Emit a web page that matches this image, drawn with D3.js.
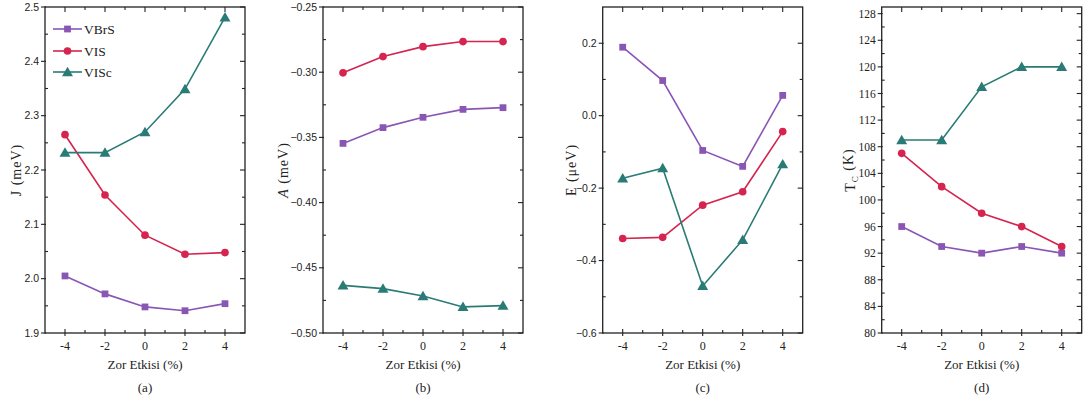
<!DOCTYPE html>
<html>
<head>
<meta charset="utf-8">
<script src="https://cdn.jsdelivr.net/npm/d3@7/dist/d3.min.js"></script>
<style>
  html, body { margin: 0; padding: 0; background: #fff; }
  svg { display: block; }
  .serif { font-family: "Liberation Serif", "DejaVu Serif", serif; }
  .sans { font-family: "Liberation Sans", Arial, sans-serif; }
</style>
</head>
<body>
<svg id="chart" width="1083" height="401"></svg>
<script>
// Strain values shared by all four panels
const strain = [-4, -2, 0, 2, 4];
const seriesNames = ["VBrS", "VIS", "VISc"];

// (a) exchange coupling J (meV)
const jVBrS = [2.005, 1.972, 1.948, 1.941, 1.954];
const jVIS  = [2.265, 2.154, 2.080, 2.045, 2.048];
const jVISc = [2.232, 2.232, 2.270, 2.349, 2.481];

// (b) anisotropy A (meV)
const aVBrS = [-0.3546, -0.3425, -0.3346, -0.3285, -0.3272];
const aVIS  = [-0.3005, -0.2880, -0.2804, -0.2765, -0.2765];
const aVISc = [-0.4635, -0.4660, -0.4716, -0.4800, -0.4790];

// (c) E (µeV)
const eVBrS = [0.189, 0.097, -0.096, -0.140, 0.056];
const eVIS  = [-0.339, -0.336, -0.247, -0.210, -0.044];
const eVISc = [-0.173, -0.145, -0.470, -0.343, -0.134];

// (d) Curie temperature Tc (K)
const tVBrS = [96, 93, 92, 93, 92];
const tVIS  = [107, 102, 98, 96, 93];
const tVISc = [109, 109, 117, 120, 120];

const xTicks = [-4, -2, 0, 2, 4];
const xMinorTicks = [-3, -1, 1, 3];
const panelLetters = ["(a)", "(b)", "(c)", "(d)"];
const xTitle = "Zor Etkisi (%)";

const colors = { VBrS: "#8a56b4", VIS: "#d4244f", VISc: "#2a7b75" };
const shapes = { VBrS: d3.symbolSquare, VIS: d3.symbolCircle, VISc: d3.symbolTriangle };
const sizes  = { VBrS: 46, VIS: 46, VISc: 52 };

const panels = [
  { left: 45,    domain: [1.9, 2.5],  major: d3.range(1.9, 2.5001, 0.1),  minor: d3.range(1.95, 2.5, 0.1),
    fmt: d3.format(".1f"), sansTicks: true, titleX: 16,  series: [jVBrS, jVIS, jVISc], legend: true },
  { left: 323,   domain: [-0.5, -0.25], major: d3.range(-0.5, -0.2499, 0.05), minor: d3.range(-0.475, -0.25, 0.05),
    fmt: d3.format(".2f"), sansTicks: true, titleX: 283, series: [aVBrS, aVIS, aVISc] },
  { left: 602.7, domain: [-0.6, 0.3], major: d3.range(-0.6, 0.2001, 0.2),  minor: d3.range(-0.5, 0.31, 0.2),
    fmt: d3.format(".1f"), sansTicks: true, titleX: 571, series: [eVBrS, eVIS, eVISc] },
  { left: 881.7, domain: [80, 129],   major: d3.range(80, 128.001, 4),     minor: d3.range(82, 129, 4),
    fmt: d3.format("d"), sansTicks: false, titleX: 850, series: [tVBrS, tVIS, tVISc] }
];

const svg = d3.select("#chart");
const plotTop = 7, plotBottom = 333, plotWidth = 200;
const axisColor = "#222";

panels.forEach((p, i) => {
  const g = svg.append("g");
  const x = d3.scaleLinear().domain([-5, 5]).range([p.left, p.left + plotWidth]);
  const y = d3.scaleLinear().domain(p.domain).range([plotBottom, plotTop]);

  // frame
  g.append("rect")
    .attr("x", p.left).attr("y", plotTop).attr("width", plotWidth).attr("height", plotBottom - plotTop)
    .attr("fill", "none").attr("stroke", axisColor).attr("stroke-width", 1.3);

  const tick = (x1, y1, x2, y2) => g.append("line")
    .attr("x1", x1).attr("y1", y1).attr("x2", x2).attr("y2", y2)
    .attr("stroke", axisColor).attr("stroke-width", 1.1);

  // x ticks: bottom (crossing) and top (inward)
  xTicks.forEach(v => {
    tick(x(v), plotBottom - 4, x(v), plotBottom + 3);
    tick(x(v), plotTop, x(v), plotTop + 5);
  });
  xMinorTicks.forEach(v => {
    tick(x(v), plotBottom, x(v), plotBottom - 3);
    tick(x(v), plotTop, x(v), plotTop + 3);
  });

  // y ticks: left (outward) and right (inward)
  p.major.forEach(v => {
    tick(p.left - 4, y(v), p.left + 1, y(v));
    tick(p.left + plotWidth, y(v), p.left + plotWidth - 5, y(v));
  });
  p.minor.forEach(v => {
    if (v > p.domain[0] && v < p.domain[1]) {
      tick(p.left, y(v), p.left + 3, y(v));
      tick(p.left + plotWidth, y(v), p.left + plotWidth - 3, y(v));
    }
  });

  // tick labels
  g.selectAll(".xl").data(xTicks).enter().append("text")
    .attr("class", "serif")
    .attr("x", d => x(d)).attr("y", 350)
    .attr("text-anchor", "middle")
    .attr("font-size", 12).attr("fill", "#222")
    .text(d => d);

  g.selectAll(".yl").data(p.major).enter().append("text")
    .attr("class", p.sansTicks ? "sans" : "serif")
    .attr("x", p.left - 6).attr("y", d => y(d))
    .attr("dy", "0.35em")
    .attr("text-anchor", "end")
    .attr("font-size", p.sansTicks ? 10.5 : 11.5)
    .attr("fill", "#222")
    .text(d => p.fmt(d));

  // axis titles
  g.append("text")
    .attr("class", "serif")
    .attr("x", p.left + plotWidth / 2).attr("y", 369)
    .attr("text-anchor", "middle")
    .attr("font-size", 13).attr("fill", "#222")
    .text(xTitle);

  g.append("text")
    .attr("class", "serif")
    .attr("x", p.left + plotWidth / 2).attr("y", 392)
    .attr("text-anchor", "middle")
    .attr("font-size", 13).attr("fill", "#222")
    .text(panelLetters[i]);

  const yt = g.append("text")
    .attr("class", "serif")
    .attr("transform", `translate(${p.titleX},${(plotTop + plotBottom) / 2}) rotate(-90)`)
    .attr("text-anchor", "middle")
    .attr("dy", "0.35em")
    .attr("letter-spacing", 1)
    .attr("font-size", 14).attr("fill", "#222");
  if (i === 0) { yt.text("J (meV)"); }
  if (i === 1) { yt.append("tspan").attr("font-style", "italic").text("A"); yt.append("tspan").text(" (meV)"); }
  if (i === 2) { yt.text("E (\u03bceV)"); }
  if (i === 3) {
    yt.append("tspan").text("T");
    yt.append("tspan").attr("font-size", 9).attr("dy", "0.3em").text("C");
    yt.append("tspan").attr("dy", "-0.3em").text(" (K)");
  }

  // series lines and markers
  const line = d3.line().x((d, k) => x(strain[k])).y(d => y(d));
  p.series.forEach((vals, s) => {
    const name = seriesNames[s];
    g.append("path").datum(vals)
      .attr("d", line).attr("fill", "none")
      .attr("stroke", colors[name]).attr("stroke-width", 1.6);
    g.selectAll(".m" + s).data(vals).enter().append("path")
      .attr("transform", (d, k) => `translate(${x(strain[k])},${y(d) + (name === "VISc" ? 1 : 0)})`)
      .attr("d", d3.symbol().type(shapes[name]).size(sizes[name]))
      .attr("fill", colors[name]);
  });

  // legend
  if (p.legend) {
    const ly = [29, 51, 72];
    seriesNames.forEach((name, s) => {
      g.append("line")
        .attr("x1", 53).attr("x2", 82).attr("y1", ly[s]).attr("y2", ly[s])
        .attr("stroke", colors[name]).attr("stroke-width", 1.6);
      g.append("path")
        .attr("transform", `translate(67.5,${ly[s] + (name === "VISc" ? 1 : 0)})`)
        .attr("d", d3.symbol().type(shapes[name]).size(sizes[name]))
        .attr("fill", colors[name]);
      g.append("text")
        .attr("class", "serif")
        .attr("x", 84).attr("y", ly[s]).attr("dy", "0.35em")
        .attr("font-size", 13.5).attr("fill", "#222")
        .text(name);
    });
  }
});
</script>
</body>
</html>
